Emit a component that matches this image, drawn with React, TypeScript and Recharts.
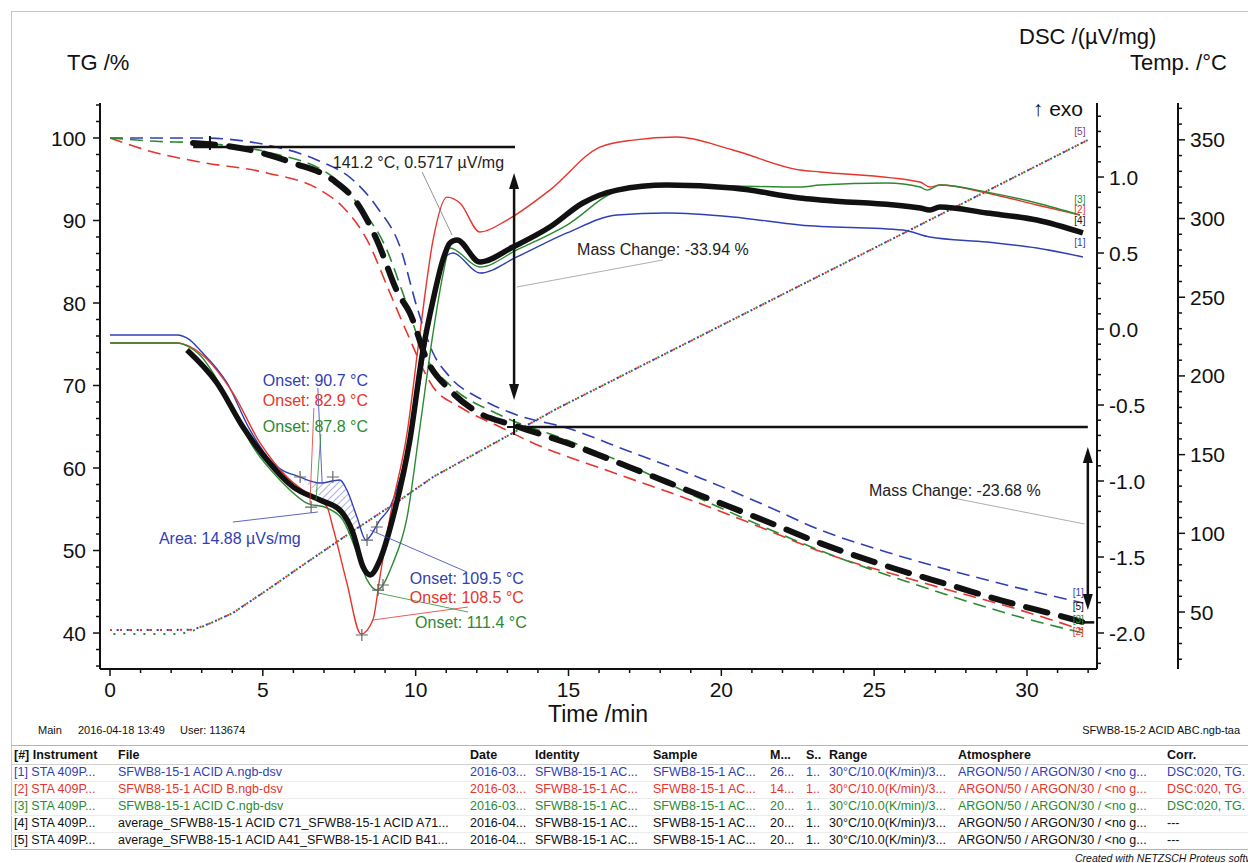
import React from 'react';
import { ComposedChart, Line, Area, XAxis, YAxis, ReferenceLine, ReferenceDot } from 'recharts';

type Pt = [number, number];

const FONT = '"Liberation Sans", Arial, Helvetica, sans-serif';
const BLUE = '#3040b4';
const RED = '#e5352c';
const GREEN = '#2b8a31';
const PURPLE = '#7e3b86';
const INK = '#111';

// major tick labels
const timeMajor = [0, 5, 10, 15, 20, 25, 30];
const tgMajor = [40, 50, 60, 70, 80, 90, 100];
const dscMajor = [-2.0, -1.5, -1.0, -0.5, 0.0, 0.5, 1.0];
const tempMajor = [50, 100, 150, 200, 250, 300, 350];

// TG curves: [time /min, TG /%]
const tgBlue: Pt[] = [[0, 100], [2.94, 100], [5.14, 99.15], [6.77, 97.33], [7.95, 94.91], [8.73, 91.64], [9.49, 86.79], [10.04, 79.52], [10.57, 73.94], [11.12, 71.03], [12.2, 68.24], [13.31, 66.42], [14.95, 64.85], [17, 62.0], [19.3, 58.8], [21.3, 55.7], [23.23, 52.5], [25.42, 49.8], [28.69, 46.42], [31.83, 43.64]];
const tgRed: Pt[] = [[0, 100], [1.4, 98.3], [2.94, 97.09], [5.14, 95.76], [6.87, 93.7], [7.62, 91.64], [8.41, 87.64], [9.16, 81.21], [9.72, 76.36], [10.57, 69.82], [11.45, 67.39], [12.76, 64.97], [13.84, 63.03], [16.5, 59.4], [19.3, 55.7], [21.3, 52.8], [23.23, 49.9], [26.5, 46.2], [29.77, 42.79], [31.83, 40.36]];
const tgGreen: Pt[] = [[0, 100], [1.5, 99.6], [2.94, 99.39], [5.14, 98.3], [7.29, 95.27], [8.18, 91.64], [9.06, 86.42], [9.58, 81.21], [10.3, 73.7], [11.12, 70.06], [12.76, 66.42], [14.95, 63.39], [17, 60.3], [19.3, 56.3], [21.3, 53.0], [23.23, 50.0], [26.5, 45.7], [29.77, 41.94], [31.83, 40.0]];
const tgAverage: Pt[] = [[2.72, 99.39], [4.58, 98.55], [5.99, 96.97], [7.29, 94.91], [8.08, 92.12], [8.73, 87.64], [9.42, 81.21], [9.81, 78.79], [10.37, 73.09], [11.12, 69.45], [12.01, 66.79], [13.18, 65.21], [14.95, 63.03], [17, 60.1], [19.3, 56.7], [21.3, 53.8], [23.23, 50.9], [25.42, 48.1], [27.58, 45.7], [29.21, 43.9], [30.85, 42.3], [31.83, 41.33]];

// DSC curves: [time /min, DSC /(µV/mg)]
const dscBlue: Pt[] = [[0, -0.039], [2.19, -0.039], [2.6, -0.07], [2.94, -0.138], [3.83, -0.355], [4.58, -0.664], [5.33, -0.882], [6.22, -0.974], [6.87, -1.013], [7.52, -0.993], [7.75, -1.059], [8.08, -1.237], [8.37, -1.388], [8.83, -1.257], [9.16, -1.171], [9.72, -0.796], [10.14, -0.355], [10.57, 0.191], [10.89, 0.454], [11.22, 0.5], [12.1, 0.368], [13.31, 0.474], [14.95, 0.632], [16.59, 0.75], [18.22, 0.763], [20.38, 0.737], [22.57, 0.684], [25.94, 0.651], [26.82, 0.605], [28.69, 0.572], [30.32, 0.533], [31.83, 0.474]];
const dscRed: Pt[] = [[0, -0.092], [2.2, -0.092], [2.6, -0.115], [2.94, -0.158], [4.02, -0.421], [4.91, -0.75], [5.79, -0.974], [6.44, -1.079], [7.1, -1.171], [7.29, -1.303], [7.75, -1.671], [8.21, -2.007], [8.6, -1.914], [8.83, -1.632], [9.16, -1.237], [9.72, -0.684], [10.14, -0.026], [10.57, 0.586], [11.02, 0.868], [11.45, 0.829], [12.1, 0.638], [12.99, 0.717], [14.39, 0.914], [16.03, 1.197], [17.11, 1.243], [18.55, 1.263], [20.38, 1.178], [22.57, 1.046], [23.23, 1.033], [26.5, 0.967], [26.82, 0.934], [27.15, 0.947], [28.69, 0.895], [30.32, 0.816], [31.73, 0.75]];
const dscGreen: Pt[] = [[0, -0.092], [2.2, -0.092], [2.6, -0.12], [2.94, -0.171], [3.83, -0.447], [4.68, -0.776], [5.56, -0.993], [6.44, -1.145], [7.1, -1.178], [7.62, -1.257], [8.08, -1.474], [8.41, -1.651], [8.73, -1.717], [9.26, -1.539], [9.72, -1.237], [10.14, -0.645], [10.57, -0.026], [10.89, 0.355], [11.12, 0.533], [12.1, 0.408], [13.31, 0.52], [14.95, 0.684], [16.59, 0.905], [18.22, 0.947], [20.38, 0.941], [22.57, 0.934], [23.23, 0.947], [25.42, 0.961], [26.5, 0.934], [26.73, 0.914], [27.15, 0.947], [28.69, 0.901], [30.32, 0.829], [31.73, 0.75]];
const dscAverage: Pt[] = [[2.52, -0.138], [3.5, -0.355], [4.35, -0.645], [5.14, -0.862], [5.99, -1.039], [6.87, -1.125], [7.52, -1.191], [7.95, -1.342], [8.28, -1.566], [8.51, -1.618], [8.83, -1.52], [9.26, -1.237], [9.81, -0.73], [10.24, -0.138], [10.57, 0.191], [10.89, 0.454], [11.12, 0.566], [11.35, 0.586], [12.1, 0.441], [13.18, 0.539], [14.39, 0.671], [15.47, 0.829], [16.59, 0.914], [18.22, 0.947], [20.38, 0.928], [22.57, 0.862], [23.23, 0.849], [26.5, 0.796], [26.82, 0.783], [27.15, 0.803], [28.69, 0.763], [30.32, 0.717], [31.83, 0.632]];

// Temperature: [time /min, Temp /°C]
const tempProgram: Pt[] = [[0, 38.6], [2.0, 38.6], [2.72, 38.8], [3.3, 43], [4.02, 49.4], [5.14, 64], [6.22, 78.6], [7.85, 100.2], [9.49, 121.2], [10.57, 135.8], [12.76, 159.3], [14.72, 180.2], [32, 350]];
const tempGreen: Pt[] = [[0, 36], [2.3, 36], [2.72, 38.2], [3.3, 43], [4.02, 49.4], [5.14, 64], [6.22, 78.6], [7.85, 100.2], [9.49, 121.2], [10.57, 135.8], [12.76, 159.3], [14.72, 180.2], [32, 350]];

// peak area (DSC): [time, baseline, curve]
const areaBand: [number, number, number][] = [[6.22, -0.974, -0.974], [6.87, -1.1, -1.013], [7.2, -1.165, -1.0], [7.52, -1.23, -0.993], [7.75, -1.28, -1.059], [8.08, -1.34, -1.237]];

const steps = (from: number, to: number, step: number) => {
  const out: number[] = [];
  const n = Math.round((to - from) / step);
  for (let i = 0; i <= n; i++) out.push(Math.round((from + i * step) * 1000) / 1000);
  return out;
};
const rows = (pts: Pt[]) => pts.map(([t, v]) => ({ t, v }));
const isMajor = (majors: number[], v: number) => majors.some((m) => Math.abs(m - v) < 1e-6);

const makeTick = (side: 'left' | 'right' | 'bottom', majors: number[], fmt: (v: number) => string) =>
  (props: any) => {
    const { x, y, payload } = props;
    const v = Number(payload.value);
    const major = isMajor(majors, v);
    const len = major ? 7 : 4;
    const ts = { fontFamily: FONT, fontSize: 21, fill: INK };
    if (side === 'left') {
      return (
        <g>
          <line x1={x} y1={y} x2={x - len} y2={y} stroke={INK} strokeWidth={1.5} />
          {major && <text x={x - 14} y={y} dy="0.36em" textAnchor="end" style={ts}>{fmt(v)}</text>}
        </g>
      );
    }
    if (side === 'right') {
      return (
        <g>
          <line x1={x} y1={y} x2={x + len} y2={y} stroke={INK} strokeWidth={1.5} />
          {major && <text x={x + 12} y={y} dy="0.36em" textAnchor="start" style={ts}>{fmt(v)}</text>}
        </g>
      );
    }
    return (
      <g>
        <line x1={x} y1={y} x2={x} y2={y + len} stroke={INK} strokeWidth={1.5} />
        {major && <text x={x} y={y + 28} textAnchor="middle" style={ts}>{fmt(v)}</text>}
      </g>
    );
  };

// annotations, anchored in (time, TG) coordinates
const notes = [
  { t: 7.29, tg: 97.09, text: '141.2 °C, 0.5717 µV/mg', color: '#222' },
  { t: 15.28, tg: 86.55, text: 'Mass Change: -33.94 %', color: '#222' },
  { t: 24.83, tg: 57.33, text: 'Mass Change: -23.68 %', color: '#222' },
  { t: 5.0, tg: 70.67, text: 'Onset: 90.7 °C', color: BLUE },
  { t: 5.0, tg: 68.24, text: 'Onset: 82.9 °C', color: RED },
  { t: 5.0, tg: 65.09, text: 'Onset: 87.8 °C', color: GREEN },
  { t: 1.6, tg: 51.52, text: 'Area: 14.88 µVs/mg', color: BLUE },
  { t: 9.81, tg: 46.67, text: 'Onset: 109.5 °C', color: BLUE },
  { t: 9.81, tg: 44.36, text: 'Onset: 108.5 °C', color: RED },
  { t: 9.98, tg: 41.33, text: 'Onset: 111.4 °C', color: GREEN },
  { t: 30.19, tg: 103.64, text: '↑ exo', color: INK, size: 21 },
];
const curveTags = [
  { t: 31.73, tg: 100.85, text: '[5]', color: PURPLE },
  { t: 31.73, tg: 92.6, text: '[3]', color: GREEN },
  { t: 31.73, tg: 91.4, text: '[2]', color: RED },
  { t: 31.73, tg: 90.0, text: '[4]', color: INK },
  { t: 31.73, tg: 87.39, text: '[1]', color: BLUE },
  { t: 31.68, tg: 44.95, text: '[1]', color: BLUE },
  { t: 31.68, tg: 43.2, text: '[5]', color: INK },
  { t: 31.68, tg: 41.7, text: '[3]', color: GREEN },
  { t: 31.68, tg: 40.2, text: '[2]', color: RED },
];
const leaders = [
  { a: [10.21, 95.88], b: [11.19, 88.24], color: '#777' },
  { a: [13.31, 81.94], b: [18.09, 85.21], color: '#999' },
  { a: [27.58, 56.36], b: [31.89, 53.21], color: '#999' },
  { a: [6.8, 69.7], b: [6.94, 58.18], color: BLUE },
  { a: [6.67, 67.27], b: [6.54, 55.52], color: RED },
  { a: [6.9, 64.12], b: [6.74, 56.12], color: GREEN },
  { a: [4.02, 53.45], b: [6.8, 54.67], color: BLUE },
  { a: [8.51, 52.48], b: [11.68, 47.39], color: BLUE },
  { a: [8.6, 41.58], b: [11.71, 43.15], color: RED },
  { a: [8.77, 44.85], b: [11.71, 42.55], color: GREEN },
];
const crosses = [
  [6.22, 58.91], [6.58, 55.27], [7.29, 58.91], [8.41, 51.27], [8.73, 52.85], [8.24, 39.76], [8.77, 45.21], [8.93, 45.82],
];

const tableHead = ['[#] Instrument', 'File', 'Date', 'Identity', 'Sample', 'M...', 'S..', 'Range', 'Atmosphere', 'Corr.'];
const tableRows = [
  ['[1] STA 409P...', 'SFWB8-15-1 ACID A.ngb-dsv', '2016-03...', 'SFWB8-15-1 AC...', 'SFWB8-15-1 AC...', '26...', '1..', '30°C/10.0(K/min)/3...', 'ARGON/50 / ARGON/30 / <no g...', 'DSC:020, TG.'],
  ['[2] STA 409P...', 'SFWB8-15-1 ACID B.ngb-dsv', '2016-03...', 'SFWB8-15-1 AC...', 'SFWB8-15-1 AC...', '14...', '1..', '30°C/10.0(K/min)/3...', 'ARGON/50 / ARGON/30 / <no g...', 'DSC:020, TG.'],
  ['[3] STA 409P...', 'SFWB8-15-1 ACID C.ngb-dsv', '2016-03...', 'SFWB8-15-1 AC...', 'SFWB8-15-1 AC...', '20...', '1..', '30°C/10.0(K/min)/3...', 'ARGON/50 / ARGON/30 / <no g...', 'DSC:020, TG.'],
  ['[4] STA 409P...', 'average_SFWB8-15-1 ACID C71_SFWB8-15-1 ACID A71...', '2016-04...', 'SFWB8-15-1 AC...', 'SFWB8-15-1 AC...', '20...', '1..', '30°C/10.0(K/min)/3...', 'ARGON/50 / ARGON/30 / <no g...', '---'],
  ['[5] STA 409P...', 'average_SFWB8-15-1 ACID A41_SFWB8-15-1 ACID B41...', '2016-04...', 'SFWB8-15-1 AC...', 'SFWB8-15-1 AC...', '20...', '1..', '30°C/10.0(K/min)/3...', 'ARGON/50 / ARGON/30 / <no g...', '---'],
];
const rowColors = [BLUE, RED, GREEN, INK, INK];
const colX = [14, 118, 470, 535, 653, 770, 806, 829, 958, 1167];

const arrowShape = (p: any) => {
  const x = p.x1;
  const top = Math.min(p.y1, p.y2);
  const bot = Math.max(p.y1, p.y2);
  return (
    <g>
      <line x1={x} y1={top + 10} x2={x} y2={bot - 10} stroke={INK} strokeWidth={2.5} />
      <path d={`M${x},${top} l-5,16 l10,0 z`} fill={INK} />
      <path d={`M${x},${bot} l-5,-16 l10,0 z`} fill={INK} />
    </g>
  );
};

const Txt = ({ x, y, size, children, style }: any) => (
  <div style={{ position: 'absolute', left: x, top: y - size * 0.5, fontSize: size, lineHeight: `${size}px`, fontFamily: FONT, whiteSpace: 'nowrap', color: INK, ...style }}>
    {children}
  </div>
);

const lineBase = { xAxisId: 't', type: 'monotone' as const, dot: false, activeDot: false, isAnimationActive: false };

export default function App() {
  return (
    <div style={{ position: 'absolute', left: 0, top: 0, width: 1248, height: 863, background: '#fff', overflow: 'hidden', fontFamily: FONT }}>
      <div style={{ position: 'absolute', left: 11, top: 11, width: 1260, height: 838, borderTop: '1px solid #c6c6c6', borderLeft: '1px solid #c6c6c6' }} />
      <div style={{ position: 'absolute', left: 0, top: 0 }}>
        <ComposedChart width={1248} height={720} margin={{ top: 103, right: 0, bottom: 0, left: 0 }}>
          <defs>
            <pattern id="hatch" width="5" height="5" patternUnits="userSpaceOnUse" patternTransform="rotate(45)">
              <line x1="0" y1="0" x2="0" y2="5" stroke={BLUE} strokeWidth="0.8" />
            </pattern>
          </defs>
          <XAxis xAxisId="t" type="number" dataKey="t" domain={[-0.327, 32.29]} allowDataOverflow ticks={steps(0, 32, 1)} interval={0}
            height={51} tickSize={0} tickMargin={0} tickLine={false} axisLine={{ stroke: INK, strokeWidth: 2 }}
            tick={makeTick('bottom', timeMajor, (v) => String(v))} />
          <YAxis yAxisId="tg" orientation="left" width={100} type="number" domain={[35.64, 104.24]} allowDataOverflow ticks={steps(36, 104, 2)} interval={0}
            tickSize={0} tickMargin={0} tickLine={false} axisLine={{ stroke: INK, strokeWidth: 2 }}
            tick={makeTick('left', tgMajor, (v) => String(v))} />
          <YAxis yAxisId="dsc" orientation="right" width={81} type="number" domain={[-2.237, 1.487]} allowDataOverflow ticks={steps(-2.2, 1.4, 0.1)} interval={0}
            tickSize={0} tickMargin={0} tickLine={false} axisLine={{ stroke: INK, strokeWidth: 2 }}
            tick={makeTick('right', dscMajor, (v) => v.toFixed(1))} />
          <YAxis yAxisId="temp" orientation="right" width={70} type="number" domain={[13.8, 373.4]} allowDataOverflow ticks={steps(20, 370, 10)} interval={0}
            tickSize={0} tickMargin={0} tickLine={false} axisLine={{ stroke: INK, strokeWidth: 2 }}
            tick={makeTick('right', tempMajor, (v) => String(v))} />

          <Line {...lineBase} data={rows(tempProgram)} dataKey="v" yAxisId="temp" type="linear" stroke={RED} strokeWidth={2} strokeDasharray="2 8" strokeDashoffset={0} />
          <Line {...lineBase} data={rows(tempProgram)} dataKey="v" yAxisId="temp" type="linear" stroke={BLUE} strokeWidth={2} strokeDasharray="2 8" strokeDashoffset={3.3} />
          <Line {...lineBase} data={rows(tempGreen)} dataKey="v" yAxisId="temp" type="linear" stroke={GREEN} strokeWidth={2} strokeDasharray="2 8" strokeDashoffset={6.6} />
          <Line {...lineBase} data={rows(tempProgram)} dataKey="v" yAxisId="temp" type="linear" stroke={PURPLE} strokeWidth={1.5} strokeDasharray="1.5 18.5" strokeDashoffset={1.6} />

          <Area xAxisId="t" yAxisId="dsc" type="linear" data={areaBand.map(([t, lo, hi]) => ({ t, band: [lo, hi] }))} dataKey="band"
            stroke="none" fill="url(#hatch)" fillOpacity={1} isAnimationActive={false} dot={false} activeDot={false} />

          <Line {...lineBase} data={rows(dscBlue)} dataKey="v" yAxisId="dsc" stroke={BLUE} strokeWidth={1.4} />
          <Line {...lineBase} data={rows(dscRed)} dataKey="v" yAxisId="dsc" stroke={RED} strokeWidth={1.4} />
          <Line {...lineBase} data={rows(dscGreen)} dataKey="v" yAxisId="dsc" stroke={GREEN} strokeWidth={1.4} />

          <Line {...lineBase} data={rows(tgBlue)} dataKey="v" yAxisId="tg" stroke={BLUE} strokeWidth={1.6} strokeDasharray="13 7" />
          <Line {...lineBase} data={rows(tgRed)} dataKey="v" yAxisId="tg" stroke={RED} strokeWidth={1.6} strokeDasharray="13 7" />
          <Line {...lineBase} data={rows(tgGreen)} dataKey="v" yAxisId="tg" stroke={GREEN} strokeWidth={1.6} strokeDasharray="13 7" />

          <Line {...lineBase} data={rows(dscAverage)} dataKey="v" yAxisId="dsc" stroke={INK} strokeWidth={5.5} />
          <Line {...lineBase} data={rows(tgAverage)} dataKey="v" yAxisId="tg" stroke={INK} strokeWidth={6} strokeDasharray="22 14" strokeLinecap="round" />

          <ReferenceLine xAxisId="t" yAxisId="tg" ifOverflow="visible" segment={[{ x: 2.72, y: 98.9 }, { x: 13.25, y: 98.9 }]} stroke={INK} strokeWidth={2.5} />
          <ReferenceLine xAxisId="t" yAxisId="tg" ifOverflow="visible" segment={[{ x: 13.22, y: 64.97 }, { x: 31.99, y: 64.97 }]} stroke={INK} strokeWidth={2.5} />
          <ReferenceLine xAxisId="t" yAxisId="tg" ifOverflow="visible" segment={[{ x: 31.6, y: 41.29 }, { x: 32.2, y: 41.29 }]} stroke={INK} strokeWidth={2.5} />
          <ReferenceLine xAxisId="t" yAxisId="tg" ifOverflow="visible" segment={[{ x: 13.22, y: 95.76 }, { x: 13.22, y: 68.24 }]} shape={arrowShape} />
          <ReferenceLine xAxisId="t" yAxisId="tg" ifOverflow="visible" segment={[{ x: 31.99, y: 62.55 }, { x: 31.99, y: 42.8 }]} shape={arrowShape} />

          {leaders.map((l, i) => (
            <ReferenceLine key={`l${i}`} xAxisId="t" yAxisId="tg" ifOverflow="visible"
              segment={[{ x: l.a[0], y: l.a[1] }, { x: l.b[0], y: l.b[1] }]} stroke={l.color} strokeWidth={0.8} />
          ))}
          {crosses.map((c, i) => (
            <ReferenceDot key={`c${i}`} xAxisId="t" yAxisId="tg" x={c[0]} y={c[1]} r={1} ifOverflow="visible"
              shape={(p: any) => <path d={`M${p.cx - 6},${p.cy}h12M${p.cx},${p.cy - 6}v12`} stroke="#666" strokeWidth={1.2} fill="none" />} />
          ))}
          <ReferenceDot xAxisId="t" yAxisId="tg" x={3.27} y={99.39} r={1} ifOverflow="visible"
            shape={(p: any) => <path d={`M${p.cx - 7},${p.cy}h14M${p.cx},${p.cy - 7}v14`} stroke={INK} strokeWidth={2} fill="none" />} />
          <ReferenceDot xAxisId="t" yAxisId="tg" x={13.22} y={64.97} r={1} ifOverflow="visible"
            shape={(p: any) => <path d={`M${p.cx - 7},${p.cy}h14M${p.cx},${p.cy - 8}v16`} stroke={INK} strokeWidth={2} fill="none" />} />
          {notes.map((n, i) => (
            <ReferenceDot key={`n${i}`} xAxisId="t" yAxisId="tg" x={n.t} y={n.tg} r={1} ifOverflow="visible"
              shape={(p: any) => (
                <text x={p.cx} y={p.cy} dy="0.36em" textAnchor="start" fontFamily={FONT} fontSize={n.size ?? 16} fill={n.color}>{n.text}</text>
              )} />
          ))}
          {curveTags.map((n, i) => (
            <ReferenceDot key={`g${i}`} xAxisId="t" yAxisId="tg" x={n.t} y={n.tg} r={1} ifOverflow="visible"
              shape={(p: any) => (
                <text x={p.cx} y={p.cy} dy="0.36em" textAnchor="middle" fontFamily={FONT} fontSize={10} fill={n.color}>{n.text}</text>
              )} />
          ))}
        </ComposedChart>
      </div>

      <Txt x={67} y={63} size={22}>TG /%</Txt>
      <Txt x={1019} y={37} size={22}>DSC /(µV/mg)</Txt>
      <Txt x={1130} y={63} size={22}>Temp. /°C</Txt>
      <Txt x={548} y={714} size={23}>Time /min</Txt>

      <Txt x={38} y={730} size={11}>Main</Txt>
      <Txt x={78} y={730} size={11}>2016-04-18 13:49</Txt>
      <Txt x={180} y={730} size={11}>User: 113674</Txt>
      <Txt x={0} y={730} size={11} style={{ left: 'auto', right: 8 }}>SFWB8-15-2 ACID ABC.ngb-taa</Txt>

      <div style={{ position: 'absolute', left: 11, top: 745, width: 1240, height: 1, background: '#b4b4b4' }} />
      <div style={{ position: 'absolute', left: 11, top: 764, width: 1240, height: 1, background: '#d0d0d0' }} />
      {[781, 798, 815, 832].map((y) => (
        <div key={y} style={{ position: 'absolute', left: 11, top: y, width: 1240, height: 1, background: '#ececec' }} />
      ))}
      <div style={{ position: 'absolute', left: 11, top: 849, width: 1240, height: 1, background: '#b4b4b4' }} />
      {tableHead.map((h, i) => (
        <Txt key={h} x={colX[i]} y={755} size={12.5} style={{ fontWeight: 'bold' }}>{h}</Txt>
      ))}
      {tableRows.map((r, ri) =>
        r.map((c, ci) => (
          <Txt key={`${ri}-${ci}`} x={colX[ci]} y={772 + ri * 17} size={12.5} style={{ color: rowColors[ri] }}>{c}</Txt>
        ))
      )}
      <Txt x={1075} y={858} size={10.5} style={{ fontStyle: 'italic' }}>Created with NETZSCH Proteus software</Txt>
    </div>
  );
}
